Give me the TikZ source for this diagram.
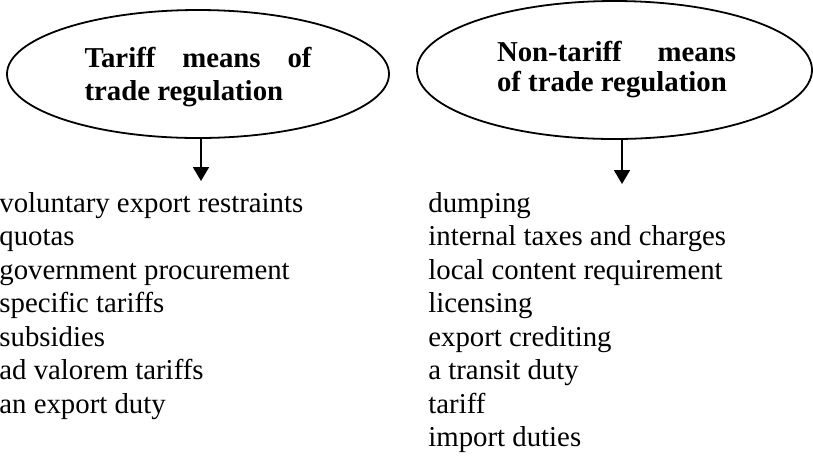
\documentclass[tikz,border=0pt]{standalone}
\usepackage{fontspec}
\setmainfont{Liberation Serif}
\usetikzlibrary{shapes.geometric,arrows.meta}
\begin{document}
\begin{tikzpicture}[x=0.5pt,y=-0.5pt,
  txt/.style={font=\fontsize{14.4}{16.75}\selectfont, inner sep=0pt, align=left},
  heading/.style={inner sep=0pt, align=left},
  oval/.style={ellipse, draw, line width=0.9pt, inner sep=0pt},
  link/.style={line width=0.9pt, -{Triangle[width=8pt,length=7pt]}}]
\useasboundingbox (0,0) rectangle (813,457);

% the two kinds of trade regulation
\node[oval, minimum width=191pt, minimum height=64pt] (tariff) at (198,74) {};
\node[heading, font=\fontsize{14.4}{16.5}\selectfont\bfseries] (tariffhead) at (198,77)
  {\makebox[113.5pt][l]{Tariff\hfill means\hfill of}\\trade regulation};
\node[oval, minimum width=197.5pt, minimum height=69pt] (nontariff) at (614.5,70) {};
\node[heading, font=\fontsize{14.4}{15}\selectfont\bfseries] (nontariffhead) at (616.5,70)
  {\makebox[119.5pt][l]{Non-tariff\hfill means}\\of trade regulation};

% lists of measures
\node[txt, anchor=north west] (tlist) at (-1,192)
  {voluntary export restraints\\quotas\\government procurement\\specific tariffs\\subsidies\\ad valorem tariffs\\an export duty};
\node[txt, anchor=north west] (nlist) at (428,192)
  {dumping\\internal taxes and charges\\local content requirement\\licensing\\export crediting\\a transit duty\\tariff\\import duties};

% arrows from each heading
\coordinate (ta) at (201,181);
\coordinate (na) at (622,184);
\draw[link] (tariff.south -| ta) -- (ta);
\draw[link] (nontariff.south -| na) -- (na);
\end{tikzpicture}
\end{document}
